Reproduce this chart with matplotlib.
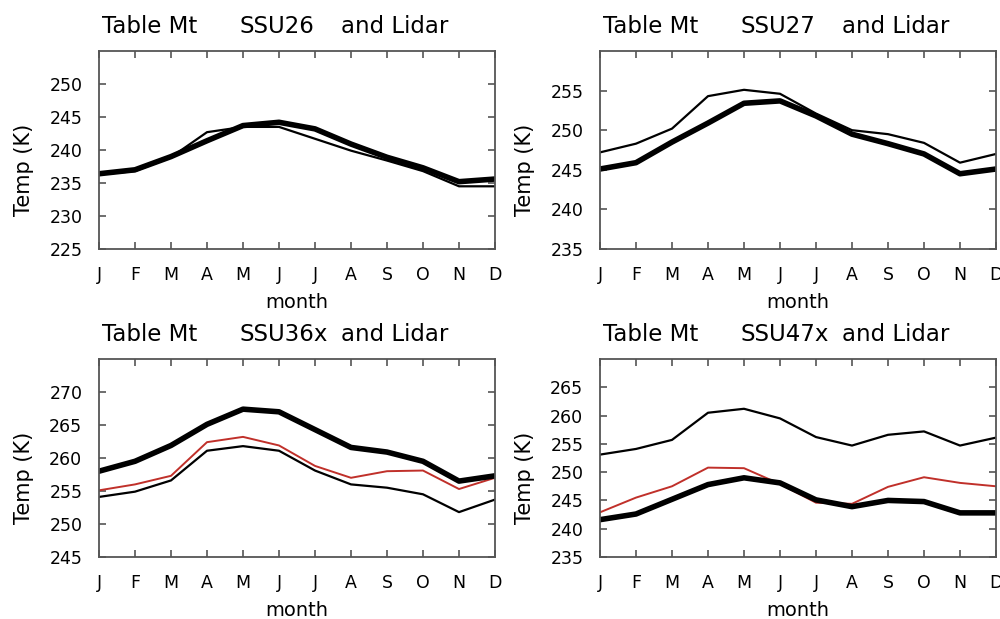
import matplotlib
matplotlib.use("Agg")
import matplotlib.pyplot as plt
import numpy as np

months = ["J", "F", "M", "A", "M", "J", "J", "A", "S", "O", "N", "D"]

# SSU26
ssu26_lidar = [236.4, 237.0, 239.0, 241.4, 243.7, 244.2, 243.2, 240.9, 238.9, 237.3, 235.2, 235.6]
ssu26_ssu = [236.3, 236.8, 238.9, 242.7, 243.5, 243.5, 241.7, 239.9, 238.4, 236.8, 234.5, 234.5]
# SSU27
ssu27_lidar = [245.1, 245.9, 248.5, 250.9, 253.4, 253.7, 251.8, 249.5, 248.3, 247.0, 244.5, 245.1]
ssu27_ssu = [247.2, 248.3, 250.2, 254.3, 255.1, 254.6, 252.1, 250.0, 249.5, 248.4, 245.9, 247.0]
# SSU36x
ssu36_lidar = [258.0, 259.5, 261.9, 265.1, 267.4, 267.0, 264.3, 261.6, 260.9, 259.5, 256.5, 257.3]
ssu36_red = [255.1, 256.0, 257.3, 262.4, 263.2, 261.9, 258.8, 257.0, 258.0, 258.1, 255.3, 257.0]
ssu36_ssu = [254.1, 254.9, 256.6, 261.1, 261.8, 261.1, 258.1, 256.0, 255.5, 254.5, 251.8, 253.7]
# SSU47x
ssu47_ssu = [253.1, 254.1, 255.7, 260.5, 261.2, 259.5, 256.2, 254.7, 256.6, 257.2, 254.7, 256.1]
ssu47_red = [242.9, 245.5, 247.5, 250.8, 250.7, 247.9, 244.6, 244.4, 247.4, 249.1, 248.1, 247.5]
ssu47_lidar = [241.6, 242.6, 245.2, 247.8, 249.0, 248.1, 245.1, 243.9, 245.0, 244.8, 242.8, 242.8]

channels = ["SSU26", "SSU27", "SSU36x", "SSU47x"]
ylims = [(225, 255), (235, 260), (245, 275), (235, 270)]
yticks = [np.arange(225, 251, 5), np.arange(235, 256, 5),
          np.arange(245, 271, 5), np.arange(235, 266, 5)]

panels = [
    [(ssu26_ssu, "black", 1.6), (ssu26_lidar, "black", 4.0)],
    [(ssu27_ssu, "black", 1.6), (ssu27_lidar, "black", 4.0)],
    [(ssu36_ssu, "black", 1.6), (ssu36_red, "#c0302a", 1.4), (ssu36_lidar, "black", 4.0)],
    [(ssu47_ssu, "black", 1.6), (ssu47_red, "#c0302a", 1.4), (ssu47_lidar, "black", 4.0)],
]

fig = plt.figure(figsize=(10, 6.19), dpi=100)
W, H = 1000, 619
boxes = [(99, 51), (600, 51), (99, 359), (600, 359)]
aw, ah = 396, 198

x = np.arange(12)
for i, (left, top) in enumerate(boxes):
    ax = fig.add_axes([left / W, 1 - (top + ah) / H, aw / W, ah / H])
    for y, c, lw in panels[i]:
        ax.plot(x, y, color=c, linewidth=lw, solid_joinstyle="round")
    ax.set_xlim(0, 11)
    ax.set_ylim(*ylims[i])
    ax.set_xticks(x)
    ax.set_xticklabels(months)
    ax.set_yticks(yticks[i])
    ax.tick_params(direction="in", top=True, right=True, length=5,
                   width=1.2, color="#555555", labelsize=12.5, pad=12)
    for s in ax.spines.values():
        s.set_color("#555555")
        s.set_linewidth(1.3)
    # title in three pieces, spaced like the original
    for xf, txt in [(0.008, "Table Mt"), (0.356, channels[i]), (0.611, "and Lidar")]:
        ax.text(xf, 1.09, txt, transform=ax.transAxes, fontsize=16.5,
                ha="left", va="baseline")
    ax.text(0.5, -0.27, "month", transform=ax.transAxes, fontsize=14,
            ha="center", va="center")
    ax.text(-0.19, 0.40, "Temp (K)", transform=ax.transAxes, fontsize=15,
            rotation=90, ha="center", va="center")

fig.savefig("out.png", dpi=100)
